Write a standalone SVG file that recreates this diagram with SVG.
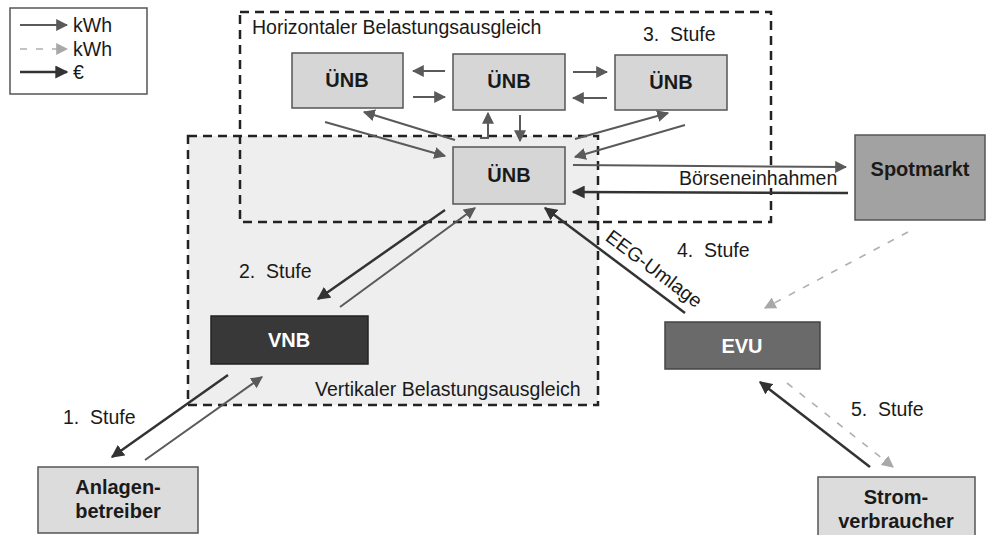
<svg xmlns="http://www.w3.org/2000/svg" width="993" height="535" viewBox="0 0 993 535">
<style>
text{font-family:"Liberation Sans",Arial,sans-serif;fill:#1a1a1a}
.lbl{font-size:19.5px}
.nb{font-size:20px;font-weight:bold;text-anchor:middle}
.box{stroke:#555;stroke-width:1.5}
.unb{fill:#d6d6d6}
.dash{fill:none;stroke:#222;stroke-width:2.5;stroke-dasharray:9 6}
.a1{fill:none;stroke:#5a5a5a;stroke-width:2;marker-end:url(#ah1)}
.a2{fill:none;stroke:#333;stroke-width:2.5;marker-end:url(#ah2)}
.a3{fill:none;stroke:#b0b0b0;stroke-width:1.6;stroke-dasharray:7 9;marker-end:url(#ah3)}
</style>
<defs>
<marker id="ah1" viewBox="0 0 10 10" refX="9" refY="5" markerWidth="12" markerHeight="12" markerUnits="userSpaceOnUse" orient="auto"><path d="M0,0 L10,5 L0,10 Z" fill="#5a5a5a"/></marker>
<marker id="ah2" viewBox="0 0 10 10" refX="9" refY="5" markerWidth="13" markerHeight="13" markerUnits="userSpaceOnUse" orient="auto"><path d="M0,0 L10,5 L0,10 Z" fill="#333"/></marker>
<marker id="ah3" viewBox="0 0 10 10" refX="9" refY="5" markerWidth="12" markerHeight="12" markerUnits="userSpaceOnUse" orient="auto"><path d="M0,0 L10,5 L0,10 Z" fill="#a8a8a8"/></marker>
</defs>
<rect width="993" height="535" fill="#fff"/>

<g id="legend">
<rect x="10" y="8" width="137" height="86" fill="#fff" stroke="#555" stroke-width="1.5"/>
<line x1="20" y1="25" x2="67" y2="25" class="a1"/>
<text x="73" y="32" class="lbl">kWh</text>
<line x1="20" y1="49" x2="67" y2="49" class="a3"/>
<text x="73" y="56" class="lbl">kWh</text>
<line x1="20" y1="72" x2="67" y2="72" class="a2"/>
<text x="73" y="79" class="lbl">€</text>
</g>

<g id="vertical-area">
<rect x="188" y="136" width="410" height="269" fill="#eeeeee"/>
</g>

<g id="horizontal-frame">
<rect x="240" y="12" width="531" height="210" class="dash"/>
<text x="252" y="34" class="lbl">Horizontaler Belastungsausgleich</text>
<text x="643" y="41" class="lbl" xml:space="preserve">3.  Stufe</text>
</g>

<g id="vertical-frame">
<rect x="188" y="136" width="410" height="269" class="dash"/>
<text x="315" y="396" class="lbl">Vertikaler Belastungsausgleich</text>
</g>

<g id="unb1"><rect x="292" y="53" width="111" height="55" class="box unb"/><text x="347" y="87" class="nb">ÜNB</text></g>
<g id="unb2"><rect x="453" y="54" width="112" height="56" class="box unb"/><text x="509" y="88" class="nb">ÜNB</text></g>
<g id="unb3"><rect x="615" y="55" width="112" height="55" class="box unb"/><text x="671" y="89" class="nb">ÜNB</text></g>
<g id="unb-center"><rect x="453" y="147" width="112" height="57" class="box unb"/><text x="509" y="182" class="nb">ÜNB</text></g>
<g id="spotmarkt"><rect x="855" y="135" width="130" height="85" fill="#a2a2a2" class="box"/><text x="920" y="176" class="nb">Spotmarkt</text></g>
<g id="vnb"><rect x="211" y="316" width="157" height="48" fill="#383838" stroke="#222" stroke-width="1.5"/><text x="289" y="347" class="nb" style="fill:#fff">VNB</text></g>
<g id="evu"><rect x="665" y="322" width="155" height="47" fill="#6a6a6a" stroke="#444" stroke-width="1.5"/><text x="742" y="353" class="nb" style="fill:#fff">EVU</text></g>
<g id="anlagenbetreiber"><rect x="38" y="467" width="160" height="66" fill="#dcdcdc" class="box"/><text x="118" y="494" class="nb">Anlagen-</text><text x="118" y="518" class="nb">betreiber</text></g>
<g id="stromverbraucher"><rect x="818" y="477" width="157" height="60" fill="#dcdcdc" class="box"/><text x="896" y="504" class="nb">Strom-</text><text x="896" y="528" class="nb">verbraucher</text></g>

<g id="connectors">
<line x1="445" y1="71" x2="413" y2="71" class="a1"/>
<line x1="413" y1="97" x2="445" y2="97" class="a1"/>
<line x1="573" y1="72" x2="607" y2="72" class="a1"/>
<line x1="607" y1="98" x2="573" y2="98" class="a1"/>
<line x1="325" y1="122" x2="445" y2="156" class="a1"/>
<line x1="455" y1="140" x2="364" y2="112" class="a1"/>
<polyline points="480,138 488,138 488,113" class="a1"/>
<line x1="520" y1="115" x2="520" y2="141" class="a1"/>
<line x1="575" y1="139" x2="668" y2="113" class="a1"/>
<line x1="685" y1="125" x2="575" y2="157" class="a1"/>
<rect x="676" y="170" width="164" height="18" fill="#fff"/>
<line x1="573" y1="165" x2="846" y2="167" class="a1"/>
<line x1="848" y1="193" x2="573" y2="192" class="a2"/>
<text x="679" y="185" class="lbl">Börseneinhahmen</text>
<line x1="685" y1="313" x2="545" y2="208" class="a2"/>
<text transform="translate(650,274) rotate(37)" class="lbl" text-anchor="middle">EEG-Umlage</text>
<text x="677" y="257" class="lbl" xml:space="preserve">4.  Stufe</text>
<line x1="908" y1="232" x2="765" y2="308" class="a3"/>
<line x1="870" y1="467" x2="760" y2="382" class="a2"/>
<line x1="787" y1="383" x2="893" y2="467" class="a3"/>
<text x="851" y="416" class="lbl" xml:space="preserve">5.  Stufe</text>
<line x1="445" y1="210" x2="318" y2="299" class="a2"/>
<line x1="340" y1="307" x2="475" y2="208" class="a1"/>
<text x="239" y="278" class="lbl" xml:space="preserve">2.  Stufe</text>
<line x1="228" y1="375" x2="112" y2="457" class="a2"/>
<line x1="145" y1="460" x2="262" y2="377" class="a1"/>
<text x="63" y="424" class="lbl" xml:space="preserve">1.  Stufe</text>
</g>
</svg>
